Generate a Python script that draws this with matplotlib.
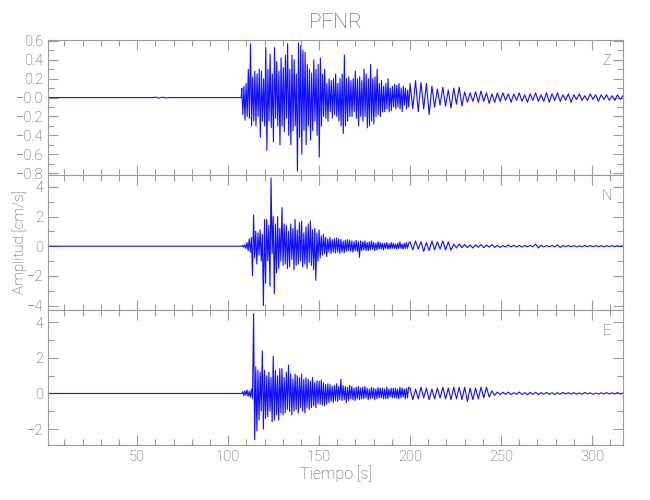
import numpy as np
import matplotlib
matplotlib.use('Agg')
import matplotlib.pyplot as plt
from matplotlib.ticker import MultipleLocator, FixedLocator, FixedFormatter

plt.rcParams['font.family'] = ['Roboto', 'DejaVu Sans']
plt.rcParams['font.weight'] = 'light'
plt.rcParams['axes.labelweight'] = 'light'
plt.rcParams['axes.titleweight'] = 'light'

# quiet part before the arrival (same for all components)
pre_t = [1.0, 58.0, 60.0, 62.0, 64.0, 66.0, 68.0]
pre_z = [0.0, 0.0, 0.004, -0.005, 0.004, -0.004, 0.0]
pre_ne = [0.0, 0.0, 0.0, 0.0, 0.0, 0.0, 0.0]

# strong motion part: extrema every 0.6 s
step_strong = 0.6
start_z = 107.5
start_n = 108.0
start_e = 108.0
z_strong = [0.10, -0.18, 0.12, -0.24, 0.15, -0.20, 0.30, -0.22, 0.57, -0.30,
            0.22, -0.25, 0.28, -0.30, 0.25, -0.20, 0.30, -0.42, 0.28, -0.25,
            0.20, -0.30, 0.53, -0.56, 0.30, -0.25, 0.46, -0.32, 0.25, -0.47,
            0.53, -0.22, 0.38, -0.30, 0.28, -0.50, 0.42, -0.30, 0.32, -0.36,
            0.45, -0.22, 0.57, -0.40, 0.30, -0.50, 0.45, -0.35, 0.40, -0.30,
            0.25, -0.78, 0.58, -0.42, 0.55, -0.60, 0.50, -0.35, 0.48, -0.50,
            0.35, -0.30, 0.30, -0.45, 0.26, -0.35, 0.40, -0.25, 0.30, -0.40,
            0.35, -0.63, 0.42, -0.30, 0.25, -0.20, 0.30, -0.22, 0.15, -0.25,
            0.20, -0.15, 0.18, -0.22, 0.20, -0.18, 0.25, -0.20, 0.15, -0.25,
            0.20, -0.30, 0.25, -0.38, 0.45, -0.30, 0.20, -0.25, 0.22, -0.20,
            0.18, -0.20, 0.20, -0.15, 0.28, -0.22, 0.20, -0.30, 0.22, -0.20,
            0.18, -0.25, 0.30, -0.20, 0.25, -0.32, 0.20, -0.30, 0.35, -0.25,
            0.20, -0.28, 0.22, -0.20, 0.30, -0.18, 0.15, -0.20, 0.18, -0.15,
            0.12, -0.15, 0.15, -0.12, 0.20, -0.15, 0.10, -0.14, 0.12, -0.10,
            0.14, -0.12, 0.13, -0.10, 0.15, -0.12, 0.10, -0.15, 0.12, -0.08,
            0.10, -0.12, 0.08, -0.10]
n_strong = [0.05, -0.08, 0.10, -0.15, 0.25, -0.30, 0.50, -0.40, 0.60, -2.00,
            2.10, -0.80, 1.00, -1.20, 0.90, -0.60, 1.10, -1.00, 0.80, -4.00,
            1.80, -2.50, 1.80, -1.00, 1.40, -2.70, 4.60, -0.50, 2.00, -3.20,
            1.50, -1.80, 2.00, -1.50, 1.20, -1.00, 2.60, -1.30, 1.50, -1.20,
            1.40, -1.50, 1.00, -1.40, 1.50, -0.90, 1.20, -1.60, 1.80, -1.30,
            1.10, -1.20, 1.60, -1.00, 1.70, -1.40, 0.90, -1.20, 1.30, -1.50,
            1.50, -1.10, 1.70, -1.30, 1.10, -1.60, 1.20, -2.30, 0.90, -1.00,
            1.10, -0.80, 0.70, -0.60, 0.80, -0.50, 0.60, -0.70, 0.50, -0.40,
            0.60, -0.50, 0.45, -0.40, 0.50, -0.45, 0.55, -0.40, 0.50, -0.50,
            0.45, -0.40, 0.35, -0.45, 0.40, -0.35, 0.45, -0.30, 0.40, -0.35,
            0.35, -0.40, 0.30, -0.30, 0.40, -0.35, 0.30, -0.75, 0.35, -0.30,
            0.30, -0.25, 0.35, -0.30, 0.25, -0.30, 0.30, -0.25, 0.35, -0.20,
            0.25, -0.30, 0.20, -0.25, 0.30, -0.20, 0.25, -0.20, 0.20, -0.25,
            0.20, -0.15, 0.25, -0.20, 0.15, -0.20, 0.25, -0.15, 0.20, -0.15,
            0.15, -0.20, 0.20, -0.15, 0.30, -0.15, 0.15, -0.20, 0.20, -0.15,
            0.25, -0.15, 0.20]
e_strong = [0.10, -0.12, 0.15, -0.10, 0.20, -0.15, 0.12, -0.20, 0.25, -0.30,
            4.50, -2.60, 1.50, -2.10, 1.30, -1.50, 1.20, -1.00, 2.40, -2.00,
            1.30, -1.40, 1.00, -1.30, 1.20, -1.00, 0.90, -1.60, 2.10, -1.50,
            1.30, -1.20, 1.00, -1.50, 1.40, -1.10, 1.40, -1.20, 0.90, -1.10,
            1.20, -0.90, 1.60, -1.00, 1.10, -1.20, 0.80, -1.00, 1.10, -0.90,
            1.00, -1.10, 0.90, -0.80, 1.10, -1.00, 0.80, -1.10, 0.90, -0.80,
            0.80, -0.90, 0.70, -0.80, 0.90, -0.70, 0.60, -0.80, 0.70, -0.60,
            0.70, -0.60, 0.75, -0.65, 0.60, -0.70, 0.50, -0.60, 0.55, -0.50,
            0.50, -0.45, 0.40, -0.50, 0.45, -0.40, 0.55, -0.45, 0.40, -0.35,
            0.80, -0.40, 0.45, -0.35, 0.40, -0.50, 0.35, -0.40, 0.45, -0.30,
            0.40, -0.35, 0.30, -0.40, 0.35, -0.30, 0.40, -0.35, 0.30, -0.30,
            0.35, -0.30, 0.40, -0.25, 0.30, -0.35, 0.25, -0.30, 0.35, -0.25,
            0.30, -0.35, 0.25, -0.30, 0.35, -0.25, 0.30, -0.25, 0.30, -0.30,
            0.25, -0.30, 0.35, -0.30, 0.25, -0.20, 0.30, -0.25, 0.30, -0.25,
            0.30, -0.25, 0.25, -0.30, 0.35, -0.25, 0.30, -0.20, 0.25, -0.30,
            0.30, -0.25, 0.35]

# coda: extrema every 1.5 s from 200 s
step_coda = 1.5
start_coda = 200.0
z_coda = [0.15, -0.12, 0.18, -0.15, 0.16, -0.12, 0.15, -0.18, 0.12, -0.10,
          0.09, -0.08, 0.11, -0.09, 0.08, -0.11, 0.10, -0.07, 0.11, -0.09,
          0.06, -0.05, 0.05, -0.04, 0.06, -0.05, 0.07, -0.04, 0.05, -0.06,
          0.04, -0.05, 0.05, -0.04, 0.05, -0.03, 0.04, -0.05, 0.04, -0.03,
          0.05, -0.04, 0.03, -0.05, 0.04, -0.03, 0.05, -0.04, 0.03, -0.04,
          0.05, -0.05, 0.04, -0.03, 0.05, -0.04, 0.03, -0.03, 0.04, -0.05,
          0.03, -0.02, 0.04, -0.03, 0.02, -0.03, 0.04, -0.02, 0.03, -0.04,
          0.03, -0.02, 0.03, -0.03, 0.02, -0.03, 0.03, -0.02, 0.02]
n_coda = [0.30, -0.25, 0.35, -0.20, 0.30, -0.35, 0.25, -0.30, 0.35, -0.25,
          0.30, -0.20, 0.35, -0.25, 0.30, -0.28, 0.15, -0.12, 0.15, -0.10,
          0.12, -0.10, 0.08, -0.12, 0.10, -0.08, 0.12, -0.10, 0.08, -0.06,
          0.10, -0.08, 0.06, -0.08, 0.05, -0.06, 0.08, -0.05, 0.06, -0.05,
          0.05, -0.06, 0.05, -0.04, 0.06, -0.05, 0.15, -0.12, 0.06, -0.05,
          0.05, -0.04, 0.06, -0.05, 0.10, -0.08, 0.05, -0.04, 0.05, -0.04,
          0.04, -0.05, 0.03, -0.04, 0.05, -0.03, 0.04, -0.03, 0.04, -0.03,
          0.03, -0.04, 0.03, -0.02, 0.04, -0.03, 0.03, -0.02, 0.03]
e_coda = [0.30, -0.35, 0.25, -0.30, 0.35, -0.25, 0.30, -0.35, 0.25, -0.30,
          0.30, -0.25, 0.35, -0.30, 0.30, -0.35, 0.35, -0.30, 0.35, -0.35,
          0.35, -0.45, 0.30, -0.35, 0.30, -0.30, 0.35, -0.25, 0.35, -0.20,
          0.15, -0.10, 0.08, -0.06, 0.07, -0.05, 0.08, -0.06, 0.05, -0.05,
          0.08, -0.06, 0.05, -0.07, 0.06, -0.05, 0.07, -0.06, 0.05, -0.04,
          0.06, -0.05, 0.04, -0.06, 0.05, -0.04, 0.06, -0.03, 0.05, -0.04,
          0.05, -0.04, 0.03, -0.04, 0.06, -0.03, 0.04, -0.05, 0.03, -0.04,
          0.04, -0.03, 0.05, -0.03, 0.04, -0.03, 0.05, -0.03, 0.03]

comp_names = ['Z', 'N', 'E']
ylims = [(-0.82, 0.61), (-4.3, 4.8), (-2.9, 4.7)]
yticks = [[-0.8, -0.6, -0.4, -0.2, 0.0, 0.2, 0.4, 0.6], [-4, -2, 0, 2, 4], [-2, 0, 2, 4]]
ylabels = [['\u22120.8', '\u22120.6', '\u22120.4', '\u22120.2', '\u22120.0', '0.2', '0.4', '0.6'],
           ['\u22124', '\u22122', '0', '2', '4'],
           ['\u22122', '0', '2', '4']]
yminor = [0.1, 1, 1]
xticks = [50, 100, 150, 200, 250, 300]

def trace(start, strong, coda, pre):
    ts = start + step_strong * np.arange(len(strong))
    tc = start_coda + step_coda * np.arange(len(coda))
    t = np.concatenate([pre_t, [start - 0.3], ts, tc])
    y = np.concatenate([pre, [0.0], strong, coda])
    return t, y

traces = [trace(start_z, z_strong, z_coda, pre_z),
          trace(start_n, n_strong, n_coda, pre_ne),
          trace(start_e, e_strong, e_coda, pre_ne)]

grey = '#9a9a9a'
tgrey = '#505050'
fig = plt.figure(figsize=(6.5, 5), dpi=100)
bottoms = [0.65, 0.38, 0.11]
for i in range(3):
    ax = fig.add_axes([0.0738, bottoms[i], 0.8846, 0.27])
    t, y = traces[i]
    ax.plot(t, y, color='#1010ff', lw=0.8)
    ax.set_xlim(1, 317)
    ax.set_ylim(*ylims[i])
    ax.xaxis.set_major_locator(FixedLocator(xticks))
    ax.xaxis.set_minor_locator(MultipleLocator(10))
    ax.yaxis.set_major_locator(FixedLocator(yticks[i]))
    ax.yaxis.set_major_formatter(FixedFormatter(ylabels[i]))
    ax.yaxis.set_minor_locator(MultipleLocator(yminor[i]))
    ax.tick_params(which='both', direction='in', top=True, right=True,
                   color=grey, labelcolor=tgrey, labelsize=10.5)
    ax.tick_params(which='major', length=7, width=0.8)
    ax.tick_params(which='minor', length=4, width=0.8)
    for s in ax.spines.values():
        s.set_color(grey)
        s.set_linewidth(0.8)
    if i < 2:
        ax.set_xticklabels([])
    else:
        ax.set_xlabel('Tiempo [s]', color=tgrey, fontsize=11.5, labelpad=1)
    if i == 1:
        ax.set_ylabel('Amplitud [cm/s]', color=tgrey, fontsize=11)
        ax.yaxis.set_label_coords(-0.036, 0.5)
    if i == 0:
        ax.set_title('PFNR', color=tgrey, fontsize=15, pad=9)
    ax.text(0.972, 0.845, comp_names[i], transform=ax.transAxes, color=tgrey,
            fontsize=10.5, ha='center', va='center')

fig.savefig('out.png', dpi=100)
